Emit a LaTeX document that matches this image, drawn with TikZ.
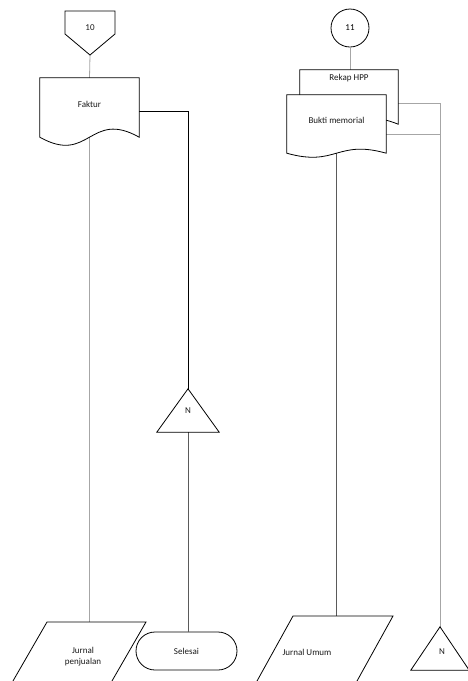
\documentclass[tikz,border=0pt]{standalone}
\usepackage{fontspec}
\setmainfont{Carlito}
\usepackage{tikz}
\usetikzlibrary{calc,positioning,shapes.misc}
\usepackage{xcolor}
\definecolor{linegray}{HTML}{A6A6A6}
\definecolor{darkline}{HTML}{5A5A5A}
\definecolor{darktext}{HTML}{1A1A1A}

% document symbol: straight box #1 with a wavy bottom of depth #2
\newcommand{\docoutline}[2]{%
  \draw[outline] (#1.south west) -- (#1.north west) -- (#1.north east) -- (#1.south east)
    .. controls ($(#1.south)+(0,-#2)$) and ($(#1.south)+(0,#2)$) .. (#1.south west) -- cycle;}

\begin{document}
\begin{tikzpicture}[x=1pt, y=-1pt,
  lbl/.style={font=\fontsize{9}{11}\selectfont, text=darktext, align=center, inner sep=1pt},
  box/.style={rectangle, inner sep=0pt},
  outline/.style={draw=black, line width=0.8pt, fill=white},
  link/.style={draw=linegray, line width=0.8pt},
  strong/.style={draw=black, line width=0.9pt},
  terminal/.style={rounded rectangle, draw=black, line width=0.8pt, minimum width=101pt, minimum height=38pt, inner sep=0pt},
]
  \fill[white] (0,0) rectangle (468,681);
  \useasboundingbox (0,0) rectangle (468,681);

  % left column
  \node[lbl] (c10) at (90,28) {10};
  \node[box, minimum width=99pt, minimum height=59pt] (faktur) at (89.5,107.5) {};
  \node[box, minimum width=62pt, minimum height=43pt] (nl) at (188,410.5) {};
  \node[terminal] (selesai) at (186.5,651) {};
  \node[lbl] (jp) at (83,657) {Jurnal\\penjualan};

  % right column
  \node[circle, draw=black, line width=0.8pt, minimum size=38pt, font=\fontsize{9}{11}\selectfont] (c11) at (350,28) {11};
  \node[box, minimum width=98pt, minimum height=54pt] (rekap) at (349,97) {};
  \node[box, minimum width=99pt, minimum height=58pt] (bukti) at (336.5,124) {};
  \node[box, minimum width=58pt, minimum height=43pt] (nr) at (440,648.5) {};
  \node[lbl] (ju) at (307,652) {Jurnal Umum};

  % connectors
  \draw[link] ($(c10)+(0,27)$) -- (faktur.north);
  \draw[link] (faktur.south) -- (faktur.south |- 0,622);
  \draw[strong] ($(faktur.east)+(0,3.5)$) -| (nl.north);
  \draw[darkline, line width=0.8pt] (nl.south) -- (selesai.north -| nl.south);
  \draw[link] (c11.south) -- (rekap.north -| c11.south);
  \draw[darkline, line width=0.8pt] (bukti.south) -- (bukti.south |- 0,616);
  \draw[link] ($(rekap.east)+(0,6)$) -| (nr.north);
  \coordinate (bm) at ($(bukti.east)+(0,10)$);
  \draw[link] (bm) -- (bm -| nr.north);

  % shapes
  \draw[outline, fill=none] ($(c10)+(-25,-17)$) -- ($(c10)+(25,-17)$) -- ($(c10)+(25,6)$)
    -- ($(c10)+(0,27)$) -- ($(c10)+(-25,6)$) -- cycle;
  \docoutline{faktur}{28}
  \docoutline{rekap}{20}
  \docoutline{bukti}{14}
  \draw[outline, fill=none] (nl.south west) -- (nl.north) -- (nl.south east) -- cycle;
  \draw[outline, fill=none] (nr.south west) -- (nr.north) -- (nr.south east) -- cycle;
  \draw[outline, fill=none] ($(jp)+(-36,-35)$) -- ($(jp)+(63,-35)$) -- ($(jp)+(18,43)$) -- ($(jp)+(-81,43)$) -- cycle;
  \draw[outline, fill=none] ($(ju)+(-14,-36)$) -- ($(ju)+(86,-36)$) -- ($(ju)+(39.5,48)$) -- ($(ju)+(-60.5,48)$) -- cycle;

  % texts
  \node[lbl] (fakturtxt) at ($(faktur)+(0,-3)$) {Faktur};
  \node[lbl, below=3pt of rekap.north] (rekaptxt) {Rekap HPP};
  \node[lbl] (buktitxt) at ($(bukti)+(0,-4)$) {Bukti memorial};
  \node[lbl] (nltxt) at (nl) {N};
  \node[lbl] (nrtxt) at ($(nr)+(2,3)$) {N};
  \node[lbl] (seltxt) at (selesai) {Selesai};
\end{tikzpicture}
\end{document}
